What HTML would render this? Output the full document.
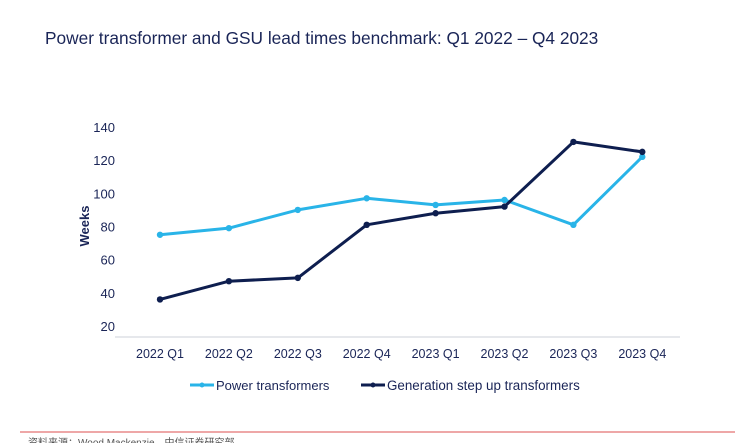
<!DOCTYPE html>
<html><head><meta charset="utf-8"><style>
body{margin:0;background:#fff;width:735px;height:443px;overflow:hidden;font-family:"Liberation Sans","Noto Sans CJK SC",sans-serif;}
</style></head><body>
<svg width="735" height="443" style="position:absolute;left:0;top:0">
<text x="45" y="44" font-size="17.3" fill="#1a2557">Power transformer and GSU lead times benchmark: Q1 2022 – Q4 2023</text>
<g id="yaxis"></g>
<g id="xaxis"></g>
<line x1="115" y1="337" x2="680" y2="337" stroke="#dde1e6" stroke-width="1.5"/>
<text transform="translate(89,226) rotate(-90)" text-anchor="middle" font-size="13" font-weight="bold" fill="#1a2557">Weeks</text>
<g id="series"></g>
<g>
<g>
<line x1="190" y1="385" x2="214" y2="385" stroke="#29b4e8" stroke-width="3"/><circle cx="202" cy="385" r="2.5" fill="#29b4e8"/>
<text x="216" y="390" font-size="13" fill="#1a2557">Power transformers</text></g>
<g>
<line x1="361" y1="385" x2="385" y2="385" stroke="#0e1e4f" stroke-width="3"/><circle cx="373" cy="385" r="2.5" fill="#0e1e4f"/>
<text x="387" y="390" font-size="13.4" fill="#1a2557">Generation step up transformers</text></g>
</g>
<line x1="20" y1="432" x2="735" y2="432" stroke="#e88a8a" stroke-width="1.5"/>
<text x="28" y="446" font-size="10" fill="#555">资料来源：Wood Mackenzie，中信证券研究部</text>
</svg>
<script>
const categories=["2022 Q1","2022 Q2","2022 Q3","2022 Q4","2023 Q1","2023 Q2","2023 Q3","2023 Q4"];
const powerValues=[75,79,90,97,93,96,81,122];
const gsuValues=[36,47,49,81,88,92,131,125];
const yTicks=[20,40,60,80,100,120,140];
const NS="http://www.w3.org/2000/svg";
function xs(i){return 160+i*68.9;}
function ys(v){return 127+(140-v)*1.658;}
const ya=document.getElementById('yaxis');
yTicks.forEach(t=>{const e=document.createElementNS(NS,'text');e.setAttribute('x',115);e.setAttribute('y',ys(t)+5);e.setAttribute('text-anchor','end');e.setAttribute('font-size','13');e.setAttribute('fill','#1a2557');e.textContent=t;


ya.appendChild(e);});
const xa=document.getElementById('xaxis');
categories.forEach((c,i)=>{const e=document.createElementNS(NS,'text');e.setAttribute('x',xs(i));e.setAttribute('y',358);e.setAttribute('text-anchor','middle');e.setAttribute('font-size','12.5');e.setAttribute('fill','#1a2557');e.textContent=c;


xa.appendChild(e);});
const sg=document.getElementById('series');
function draw(vals,color,name){
const p=document.createElementNS(NS,'polyline');
p.setAttribute('points',vals.map((v,i)=>xs(i)+','+ys(v)).join(' '));
p.setAttribute('fill','none');p.setAttribute('stroke',color);p.setAttribute('stroke-width','3');p.setAttribute('stroke-linejoin','round');


sg.appendChild(p);
vals.forEach((v,i)=>{const c=document.createElementNS(NS,'circle');c.setAttribute('cx',xs(i));c.setAttribute('cy',ys(v));c.setAttribute('r','3.2');c.setAttribute('fill',color);


sg.appendChild(c);});
}
draw(powerValues,'#29b4e8','power-transformers');
draw(gsuValues,'#0e1e4f','gsu-transformers');
</script>
</body></html>
